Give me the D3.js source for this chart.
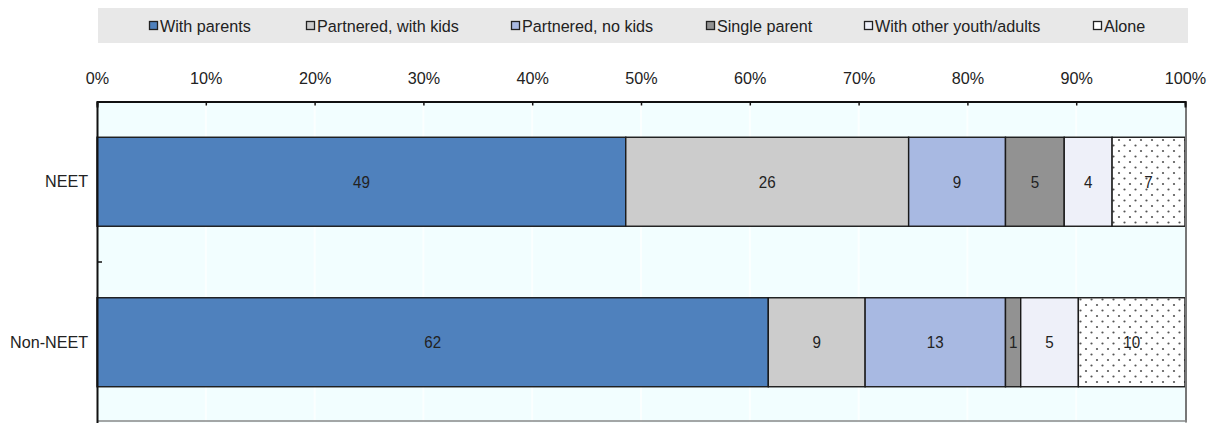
<!DOCTYPE html>
<html><head><meta charset="utf-8">
<script src="https://cdn.jsdelivr.net/npm/d3@7"></script>
<style>
html,body{margin:0;padding:0;background:#fff;}
svg text{font-family:"Liberation Sans Narrow","Arial Narrow","Liberation Sans",Arial,sans-serif;}
</style></head>
<body><svg id="chart" width="1216" height="423"></svg>
<script>
const categories = ["NEET", "Non-NEET"];
const seriesNames = ["With parents", "Partnered, with kids", "Partnered, no kids", "Single parent", "With other youth/adults", "Alone"];
const neetValues = [48.6, 26.0, 8.9, 5.4, 4.4, 6.7];
const nonNeetValues = [61.7, 8.9, 12.9, 1.4, 5.3, 9.8];
const seriesColors = ["#4F81BD", "#CCCCCC", "#A8B9E2", "#929292", "#EEF0F9", "url(#dots)"];
const xTicks = [0, 10, 20, 30, 40, 50, 60, 70, 80, 90, 100];

const FS = 16.5, SX = 0.98;
const svg = d3.select("#chart");
const defs = svg.append("defs");
const pat = defs.append("pattern").attr("id", "dots").attr("patternUnits", "userSpaceOnUse")
  .attr("width", 11).attr("height", 11);
pat.append("rect").attr("width", 11).attr("height", 11).attr("fill", "#fff");
pat.append("circle").attr("cx", 2.5).attr("cy", 2.5).attr("r", 1.1).attr("fill", "#555");
pat.append("circle").attr("cx", 8).attr("cy", 8).attr("r", 1.1).attr("fill", "#555");

const M = {left: 97, right: 1185, top: 101.5, bottom: 422.5};
const x = d3.scaleLinear().domain([0, 100]).range([M.left, M.right]);
const pad = 1 - 89 / 160.5;
const y = d3.scaleBand().domain(categories).range([M.top, M.bottom]).paddingInner(pad).paddingOuter(pad / 2);

const rows = [neetValues, nonNeetValues];
const stackData = categories.map((c, i) => {
  const o = {cat: c};
  seriesNames.forEach((s, j) => o[s] = rows[i][j]);
  return o;
});
const stacked = d3.stack().keys(seriesNames)(stackData);

function narrowText(sel, px, py) {
  sel.attr("transform", `translate(${px},${py}) scale(${SX},1)`);
}

// legend
svg.append("rect").attr("x", 98).attr("y", 8).attr("width", 1090).attr("height", 35).attr("fill", "#E8E8E8");
const legX = [149, 306, 511, 706, 864, 1093];
seriesNames.forEach((s, i) => {
  const g = svg.append("g").attr("transform", `translate(${legX[i]},21)`);
  g.append("rect").attr("x", 0.5).attr("y", 0.5).attr("width", 8).attr("height", 8)
    .attr("fill", i === 5 ? "#fff" : seriesColors[i]).attr("stroke", "#222").attr("stroke-width", 1.3);
  g.append("text").attr("font-size", FS).attr("fill", "#222").text(s).call(narrowText, 11, 10.5);
});

// plot background
svg.append("rect").attr("x", M.left).attr("y", M.top).attr("width", M.right - M.left).attr("height", M.bottom - M.top)
  .attr("fill", "#F2FEFF");
svg.append("g").selectAll("line").data(xTicks.slice(1, -1)).join("line")
  .attr("x1", d => x(d)).attr("x2", d => x(d)).attr("y1", M.top).attr("y2", M.bottom)
  .attr("stroke", "#fbffff").attr("stroke-width", 2);

// bars
const layer = svg.append("g").selectAll("g").data(stacked).join("g").attr("fill", (d, i) => seriesColors[i]);
layer.selectAll("rect").data(d => d).join("rect")
  .attr("x", d => x(d[0])).attr("width", d => x(d[1]) - x(d[0]))
  .attr("y", d => y(d.data.cat)).attr("height", y.bandwidth())
  .attr("stroke", "#1a1a1a").attr("stroke-width", 1.4);

// value labels
const fmt = d3.format(".0f");
svg.append("g").selectAll("g").data(stacked).join("g")
  .selectAll("text").data(d => d.map(v => ({v, key: d.key}))).join("text")
  .attr("text-anchor", "middle").attr("font-size", FS).attr("fill", "#222")
  .attr("transform", d => `translate(${(x(d.v[0]) + x(d.v[1])) / 2},${y(d.v.data.cat) + y.bandwidth() / 2 + 6}) scale(0.92,1)`)
  .text(d => fmt(d.v[1] - d.v[0]));

// frame
svg.append("line").attr("x1", M.right + 1).attr("x2", M.right + 1).attr("y1", M.top).attr("y2", M.bottom).attr("stroke", "#777").attr("stroke-width", 2);
svg.append("line").attr("x1", M.left).attr("x2", M.right + 2).attr("y1", M.bottom - 1.5).attr("y2", M.bottom - 1.5).attr("stroke", "#888").attr("stroke-width", 1.5);

// top axis
const xAxis = d3.axisTop(x).tickValues(xTicks).tickFormat(d => d + "%").tickSizeInner(-4).tickSizeOuter(-6).tickPadding(18);
const gx = svg.append("g").attr("transform", `translate(0,${M.top})`).call(xAxis);
gx.select(".domain").attr("stroke", "#111").attr("stroke-width", 2);
gx.selectAll(".tick line").attr("stroke", "#111").attr("stroke-width", 1.5);
gx.selectAll("text").attr("font-size", FS).attr("fill", "#222").attr("font-family", null)
  .attr("transform", `scale(${SX},1)`);

// left axis
const yAxis = d3.axisLeft(y).tickSize(0).tickPadding(9);
const gy = svg.append("g").attr("transform", `translate(${M.left},0)`).call(yAxis);
gy.select(".domain").attr("stroke", "#111").attr("stroke-width", 2);
gy.selectAll("text").attr("font-size", FS).attr("fill", "#222").attr("font-family", null)
  .attr("transform", `scale(${SX},1)`);
svg.append("line").attr("x1", M.left).attr("x2", M.left + 5)
  .attr("y1", y.step() + M.top).attr("y2", y.step() + M.top).attr("stroke", "#111").attr("stroke-width", 1.5);
</script>
</body></html>
